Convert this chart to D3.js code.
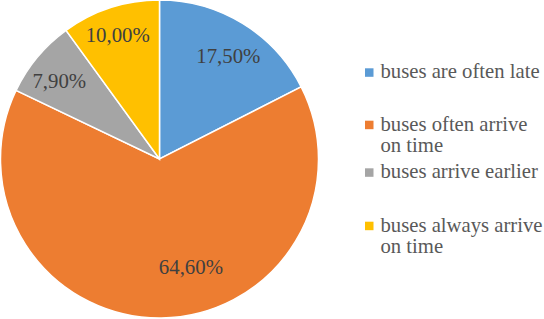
<!DOCTYPE html>
<html><head><meta charset="utf-8">
<script src="https://cdn.jsdelivr.net/npm/d3@7"></script>
<style>body{margin:0;background:#fff}svg{display:block}</style>
</head><body><svg id="c" width="544" height="319"></svg>
<script>
const categories = ["buses are often late", "buses often arrive on time", "buses arrive earlier", "buses always arrive on time"];
const values = [17.5, 64.6, 7.9, 10.0];
const valueLabels = ["17,50%", "64,60%", "7,90%", "10,00%"];
const legendLines = [["buses are often late"], ["buses often arrive", "on time"], ["buses arrive earlier"], ["buses always arrive", "on time"]];
const colors = ["#5B9BD5", "#ED7D31", "#A5A5A5", "#FFC000"];

// layout
const FONT = '"Liberation Serif"';
const cx = 159.5, cy = 159, r = 159;
const labelPlace = [{r:124.4, da:2.1}, {r:112.4, da:-15.5}, {r:127, da:-1.9}, {r:131.5, da:-0.5}];
const legendY = [78.3, 130.7, 178.3, 231.7];

const svg = d3.select("#c");
const g = svg.append("g").attr("transform", `translate(${cx},${cy})`);
const pie = d3.pie().sort(null).value(d => d);
const arcs = pie(values);
const arc = d3.arc().innerRadius(0).outerRadius(r);
g.selectAll("path").data(arcs).join("path")
  .attr("d", arc).attr("fill", (d,i) => colors[i])
  .attr("stroke", "#fff").attr("stroke-width", 1.5);

g.selectAll("text").data(arcs).join("text")
  .attr("transform", (d,i) => {
    const a = (d.startAngle + d.endAngle)/2 + labelPlace[i].da*Math.PI/180;
    const rr = labelPlace[i].r;
    return `translate(${rr*Math.sin(a)},${-rr*Math.cos(a)})`;
  })
  .attr("text-anchor", "middle").attr("dy", "0.35em")
  .style("font-family", FONT).style("font-size", "20.8px").attr("fill", "#404040")
  .text((d,i) => valueLabels[i]);

const lg = svg.append("g");
categories.forEach((c, i) => {
  lg.append("rect").attr("x", 365).attr("y", legendY[i]-10).attr("width", 8.5).attr("height", 8.5).attr("fill", colors[i]);
  legendLines[i].forEach((ln, j) => {
    lg.append("text").attr("x", 380.5).attr("y", legendY[i] + j*21.5)
      .style("font-family", FONT).style("font-size", "20.7px").attr("fill", "#595959")
      .text(ln);
  });
});
</script></body></html>
